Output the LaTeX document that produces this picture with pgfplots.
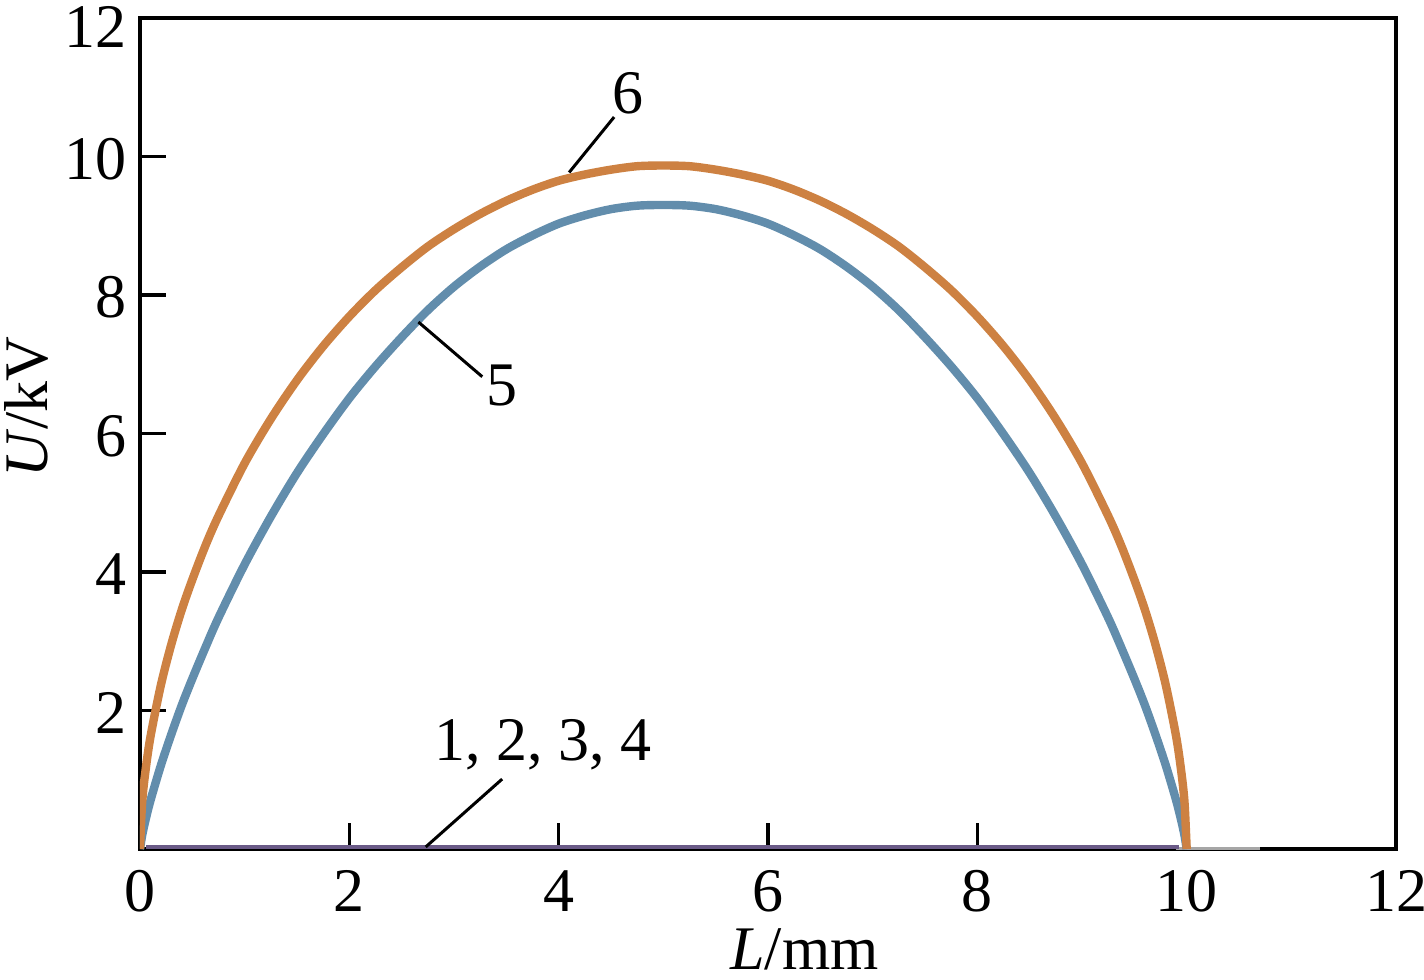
\documentclass[border=0pt]{standalone}
\usepackage{fontspec}
\setmainfont{Liberation Serif}
\usepackage{pgfplots}
\usepackage{pgfplotstable}
\pgfplotsset{compat=1.18}

\definecolor{corange}{RGB}{205,129,66}
\definecolor{cblue}{RGB}{98,141,172}
\definecolor{cpurple}{RGB}{106,90,135}

\pgfplotstableread{
x y
0 0
0.02 0.66
0.05 1.10
0.1 1.62
0.2 2.37
0.3 2.96
0.4 3.46
0.5 3.89
0.625 4.38
0.75 4.81
1 5.57
1.25 6.21
1.5 6.77
1.75 7.26
2 7.69
2.25 8.07
2.5 8.40
2.75 8.70
3 8.95
3.25 9.17
3.5 9.36
3.75 9.52
4 9.65
4.25 9.74
4.5 9.81
4.75 9.86
5 9.87
5.25 9.86
5.5 9.81
5.75 9.74
6 9.65
6.25 9.52
6.5 9.36
6.75 9.17
7 8.95
7.25 8.70
7.5 8.40
7.75 8.07
8 7.69
8.25 7.26
8.5 6.77
8.75 6.21
9 5.57
9.25 4.81
9.375 4.38
9.5 3.89
9.6 3.46
9.7 2.96
9.8 2.37
9.9 1.62
9.95 1.10
9.98 0.66
10 0
}\curvesix

\pgfplotstableread{
x y
0 0
0.02 0.19
0.05 0.40
0.1 0.70
0.2 1.21
0.3 1.66
0.4 2.08
0.5 2.46
0.625 2.91
0.75 3.34
1 4.11
1.25 4.80
1.5 5.43
1.75 5.99
2 6.51
2.25 6.97
2.5 7.39
2.75 7.78
3 8.12
3.25 8.41
3.5 8.66
3.75 8.86
4 9.03
4.25 9.15
4.5 9.24
4.75 9.29
5 9.30
5.25 9.29
5.5 9.24
5.75 9.15
6 9.03
6.25 8.86
6.5 8.66
6.75 8.41
7 8.12
7.25 7.78
7.5 7.39
7.75 6.97
8 6.51
8.25 5.99
8.5 5.43
8.75 4.80
9 4.11
9.25 3.34
9.375 2.91
9.5 2.46
9.6 2.08
9.7 1.66
9.8 1.21
9.9 0.70
9.95 0.40
9.98 0.19
10 0
}\curvefive

\pgfplotstableread{
x y
0.06 0.03
9.93 0.03
}\curvesflat

\begin{document}
\begin{tikzpicture}[font=\fontsize{15.5pt}{18.5pt}\selectfont]
\begin{axis}[
  name=ax,
  scale only axis,
  width=314pt, height=207.75pt,
  xmin=0, xmax=12, ymin=0, ymax=12,
  xtick={0,2,4,6,8,10,12},
  ytick={2,4,6,8,10},
  extra y ticks={12},
  extra y tick style={yticklabel style={yshift=-1.6pt}},
  tick pos=left,
  tick align=inside,
  major tick length=6.5pt,
  axis line style={line width=1pt, black},
  every tick/.style={black, line width=0.9pt},
  /pgf/number format/assume math mode=true,
  tick label style={font=\fontsize{15.5pt}{18.5pt}\selectfont, inner sep=0pt},
  xticklabel style={yshift=-5.2pt},
  yticklabel style={xshift=-3.2pt, yshift=-0.6pt},
  xlabel={\textit{L}/mm},
  ylabel={\textit{U}/kV},
  label style={font=\fontsize{15.5pt}{18.5pt}\selectfont, inner sep=0pt},
  xlabel style={at={(axis description cs:0.529,-0.121)}, anchor=center},
  ylabel style={at={(axis description cs:-0.090,0.532)}, anchor=center},
]
\addplot[gray!70, line width=0.8pt] coordinates {(9.9,0) (10.7,0)};
\addplot[cpurple, line width=1.1pt] table {\curvesflat};
\addplot[cblue, line width=2.1pt, smooth, tension=0.5] table {\curvefive};
\addplot[corange, line width=2.1pt, smooth, tension=0.5] table {\curvesix};

\draw[line width=0.75pt] (axis cs:4.10,9.77) -- (axis cs:4.53,10.57);
\node at (axis cs:4.66,10.91) {6};
\draw[line width=0.75pt] (axis cs:2.66,7.61) -- (axis cs:3.27,6.82);
\node at (axis cs:3.46,6.70) {5};
\draw[line width=0.75pt] (axis cs:2.73,0.03) -- (axis cs:3.46,1.01);
\node at (axis cs:3.85,1.50) {1, 2, 3, 4};
\end{axis}
\pgfresetboundingbox
\path ([xshift=-35pt,yshift=-32.5pt]ax.south west) rectangle ([xshift=7pt,yshift=4.5pt]ax.north east);
\end{tikzpicture}
\end{document}
